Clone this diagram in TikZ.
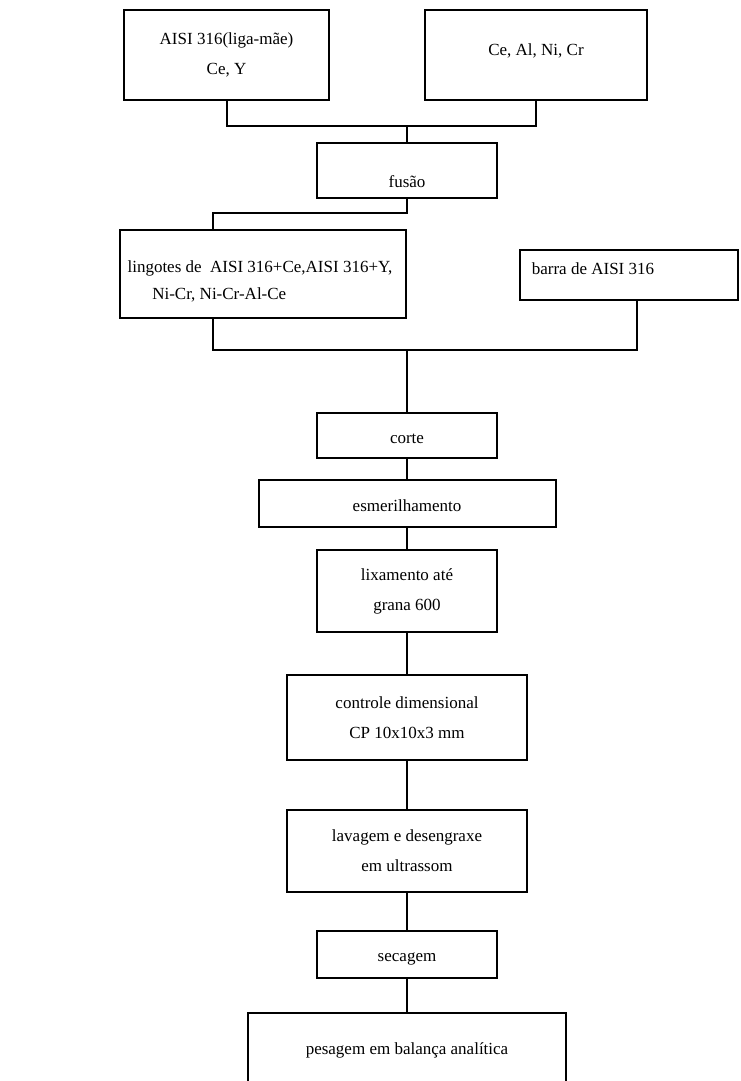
\documentclass[tikz,border=0pt]{standalone}
\usepackage{fontspec}
\setmainfont{Liberation Serif}
\begin{document}
\begin{tikzpicture}[x=1pt,y=-1pt,
  box/.style={draw=black, line width=2pt, inner sep=0pt, align=center,
    font=\fontsize{17}{30}\selectfont},
  wire/.style={draw=black, line width=2pt}]
\path[use as bounding box] (0,0) rectangle (740,1081);
\clip (0,0) rectangle (740,1081);
\fill[white] (0,0) rectangle (740,1081);
% top row
\node[box, minimum width=205pt, minimum height=90pt] (b1) at (226.5,55) {AISI 316(liga-mãe)\\Ce, Y};
\node[box, minimum width=222pt, minimum height=90pt, text height=12pt, text depth=10pt] (b2) at (536,55) {Ce, Al, Ni, Cr};
\node[box, minimum width=180pt, minimum height=55pt, text height=33pt, text depth=0pt] (fusao) at (407,170.5) {fusão};
\node[box, minimum width=286pt, minimum height=88pt, align=left, font=\fontsize{17}{27}\selectfont] (ling) at (263,274)
  {\hspace*{-6pt}\rule{0pt}{26.5pt}lingotes de\ \ AISI 316+Ce,AISI 316+Y,\\\hspace*{1.1em}Ni-Cr, Ni-Cr-Al-Ce};
\node[box, minimum width=218pt, minimum height=50pt, text height=12pt, text depth=14pt] (barra) at (629,275) {barra de AISI 316\hspace*{72pt}};
\node[box, minimum width=180pt, minimum height=45pt, text height=15pt, text depth=0pt] (corte) at (407,435.5) {corte};
\node[box, minimum width=297pt, minimum height=47pt, text height=15pt, text depth=0pt] (esm) at (407,503.5) {esmerilhamento};
\node[box, minimum width=180pt, minimum height=82pt] (lix) at (407,591) {lixamento até\\grana 600};
\node[box, minimum width=240pt, minimum height=85pt] (ctrl) at (407,717.5) {controle dimensional\\CP 10x10x3 mm};
\node[box, minimum width=240pt, minimum height=82pt] (lav) at (407,851) {lavagem e desengraxe\\em ultrassom};
\node[box, minimum width=180pt, minimum height=47pt, text height=13pt, text depth=0pt] (sec) at (407,954.5) {secagem};
\node[box, minimum width=318pt, minimum height=90pt, text height=12pt, text depth=20pt] (pes) at (407,1058) {pesagem em balança analítica};
% junctions
\coordinate (j1) at (407,126);
\coordinate (j2) at (407,213);
\coordinate (j3) at (213,213);
\coordinate (j4) at (213,350);
\coordinate (j5) at (407,350);
\coordinate (j6) at (637,350);
\draw[wire] (b1.south) -- (b1.south |- j1) -- (b2.south |- j1) -- (b2.south);
\draw[wire] (j1) -- (fusao.north);
\draw[wire] (fusao.south) -- (j2) -- (j3) -- (j3 |- ling.north);
\draw[wire] (j4 |- ling.south) -- (j4) -- (j6) -- (j6 |- barra.south);
\draw[wire] (j5) -- (corte.north);
\draw[wire] (corte.south) -- (esm.north);
\draw[wire] (esm.south) -- (lix.north);
\draw[wire] (lix.south) -- (ctrl.north);
\draw[wire] (ctrl.south) -- (lav.north);
\draw[wire] (lav.south) -- (sec.north);
\draw[wire] (sec.south) -- (pes.north);
\end{tikzpicture}
\end{document}
